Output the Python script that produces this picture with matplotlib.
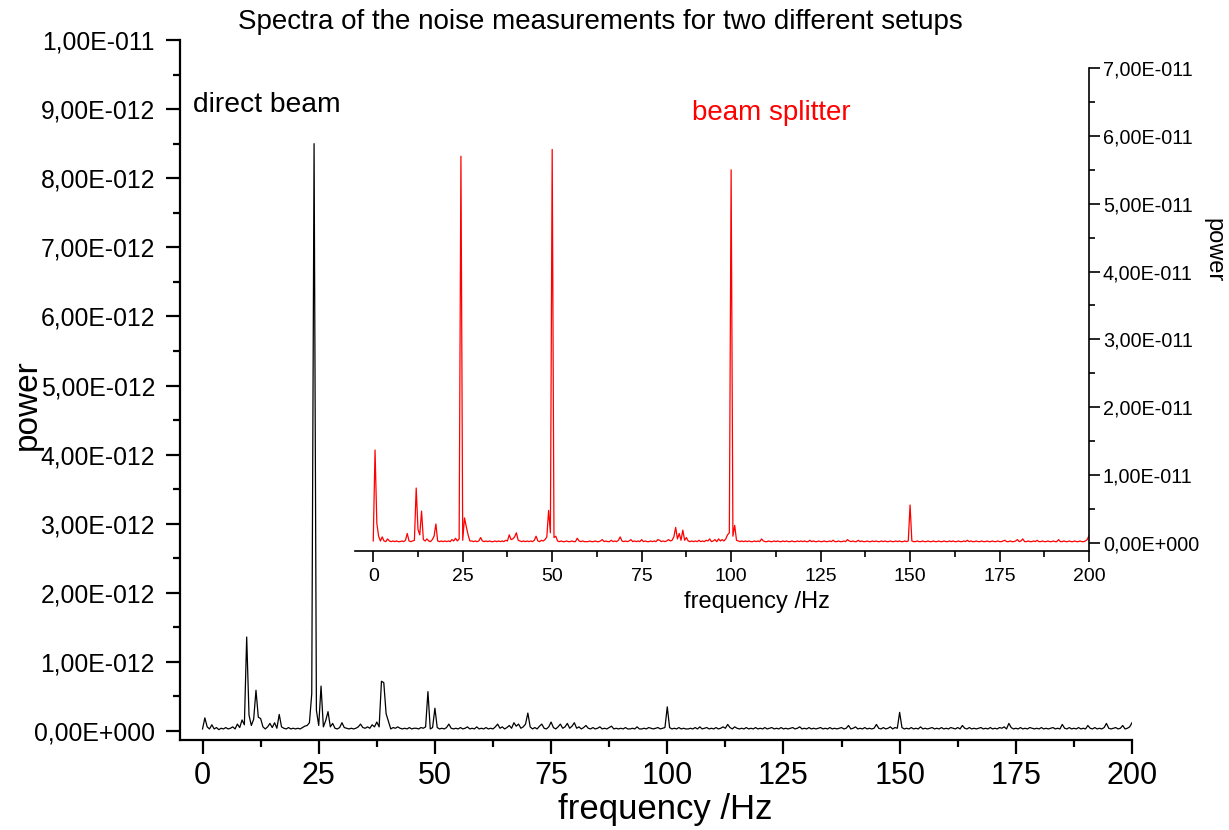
import numpy as np
import matplotlib.pyplot as plt

# ================= DATA =================
# frequency grid step 0.5 Hz, 0 .. 200 Hz
freq_step = 0.5

# direct beam, units of 1e-13 (one row = 10 Hz)
direct_beam = [
    0.3, 1.9, 0.6, 0.3, 0.9, 0.3, 0.5, 0.2, 0.4, 0.3, 0.5, 0.3, 0.4, 0.6, 0.3, 1.0, 0.5, 1.6, 0.9, 13.6,
    2.3, 0.8, 1.7, 5.9, 2.0, 1.8, 0.6, 0.3, 0.6, 1.1, 0.5, 1.2, 0.4, 2.4, 0.6, 0.4, 0.3, 0.5, 0.3, 0.4,
    0.3, 0.4, 0.3, 0.5, 0.7, 0.8, 1.2, 5.4, 85.0, 3.0, 0.8, 6.5, 0.6, 1.5, 2.8, 0.6, 1.1, 0.4, 0.3, 0.5,
    1.2, 0.5, 0.4, 0.3, 0.4, 0.3, 0.4, 0.6, 1.0, 0.5, 0.4, 0.6, 0.4, 0.9, 0.6, 1.3, 0.6, 7.2, 7.0, 2.5,
    1.4, 0.3, 0.5, 0.4, 0.6, 0.4, 0.3, 0.4, 0.3, 0.5, 0.3, 0.4, 0.4, 0.3, 0.5, 0.4, 0.6, 5.7, 0.3, 0.5,
    3.3, 0.5, 0.3, 0.4, 0.3, 0.5, 1.0, 0.4, 0.3, 0.4, 0.3, 0.5, 0.3, 0.4, 0.6, 0.3, 0.4, 0.3, 0.6, 0.3,
    0.4, 0.3, 0.5, 0.3, 0.4, 0.3, 0.6, 1.0, 0.4, 0.6, 0.3, 0.5, 0.8, 0.4, 1.2, 0.7, 1.0, 0.4, 0.6, 1.0,
    2.6, 0.6, 0.3, 0.5, 0.3, 0.7, 1.0, 0.4, 0.3, 0.6, 1.3, 0.5, 0.3, 0.6, 1.0, 0.4, 0.6, 1.1, 0.4, 0.7,
    1.2, 0.4, 0.6, 0.3, 0.5, 0.8, 0.4, 0.3, 0.5, 0.3, 0.4, 0.6, 0.3, 0.4, 0.3, 0.5, 0.7, 0.3, 0.4, 0.3,
    0.4, 0.3, 0.5, 0.3, 0.3, 0.4, 0.3, 0.6, 0.3, 0.3, 0.4, 0.3, 0.5, 0.4, 0.3, 0.4, 0.5, 0.3, 0.4, 0.5,
    3.5, 0.5, 0.3, 0.4, 0.3, 0.5, 0.3, 0.4, 0.3, 0.3, 0.4, 0.3, 0.5, 0.3, 0.6, 0.3, 0.4, 0.5, 0.3, 0.4,
    0.3, 0.5, 0.3, 0.4, 0.6, 0.4, 0.95, 0.5, 0.3, 0.6, 0.4, 0.3, 0.4, 0.3, 0.5, 0.3, 0.4, 0.3, 0.5, 0.3,
    0.4, 0.3, 0.5, 0.3, 0.4, 0.5, 0.3, 0.4, 0.3, 0.5, 0.3, 0.4, 0.3, 0.4, 0.5, 0.3, 0.4, 0.6, 0.3, 0.4,
    0.3, 0.5, 0.3, 0.4, 0.3, 0.4, 0.5, 0.3, 0.4, 0.3, 0.5, 0.3, 0.4, 0.3, 0.4, 0.5, 0.3, 0.4, 0.8, 0.3,
    0.4, 0.6, 0.3, 0.4, 0.3, 0.5, 0.3, 0.4, 0.3, 0.4, 0.95, 0.4, 0.3, 0.5, 0.3, 0.4, 0.6, 0.3, 0.5, 0.4,
    2.7, 0.5, 0.3, 0.4, 0.3, 0.5, 0.3, 0.4, 0.3, 0.6, 0.3, 0.4, 0.3, 0.4, 0.5, 0.3, 0.4, 0.3, 0.5, 0.3,
    0.4, 0.3, 0.5, 0.4, 0.3, 0.5, 0.3, 0.8, 0.4, 0.3, 0.5, 0.3, 0.4, 0.3, 0.4, 0.5, 0.3, 0.4, 0.3, 0.5,
    0.3, 0.4, 0.3, 0.5, 0.4, 0.6, 0.3, 1.1, 0.5, 0.3, 0.4, 0.3, 0.5, 0.3, 0.4, 0.3, 0.5, 0.4, 0.3, 0.4,
    0.3, 0.5, 0.3, 0.4, 0.3, 0.4, 0.5, 0.3, 0.4, 0.3, 0.95, 0.4, 0.3, 0.5, 0.3, 0.4, 0.3, 0.5, 0.3, 0.4,
    0.3, 0.8, 0.4, 0.3, 0.5, 0.3, 0.4, 0.3, 0.5, 1.1, 0.4, 0.3, 0.4, 0.5, 0.3, 0.4, 0.8, 0.3, 0.4, 0.6,
    1.2,
]

# beam splitter, units of 1e-12 (one row = 10 Hz)
beam_splitter = [
    0.3, 13.7, 2.9, 1.0, 0.3, 0.9, 0.3, 0.2, 0.6, 0.3, 0.2, 0.3, 0.2, 0.3, 0.2, 0.2, 0.3, 0.2, 0.4, 1.4,
    0.3, 0.2, 0.3, 0.4, 8.1, 2.0, 1.2, 4.7, 0.5, 0.3, 0.6, 0.3, 0.2, 0.5, 1.0, 2.8, 0.3, 0.2, 0.3, 0.2,
    0.3, 0.2, 0.3, 0.2, 0.5, 0.3, 0.7, 0.3, 0.6, 57.0, 0.4, 3.7, 2.4, 1.2, 0.3, 0.3, 0.2, 0.3, 0.2, 0.3,
    0.8, 0.3, 0.2, 0.3, 0.2, 0.3, 0.2, 0.2, 0.3, 0.2, 0.3, 0.2, 0.3, 0.2, 0.4, 0.3, 1.2, 0.5, 0.6, 0.9,
    1.5, 0.4, 0.3, 0.2, 0.3, 0.2, 0.3, 0.2, 0.3, 0.2, 0.4, 1.0, 0.3, 0.2, 0.4, 0.3, 0.5, 0.9, 4.8, 1.5,
    58.0, 0.8, 1.0, 0.3, 0.2, 0.3, 0.2, 0.2, 0.3, 0.2, 0.2, 0.3, 0.2, 0.2, 0.7, 0.3, 0.2, 0.3, 0.2, 0.2,
    0.2, 0.3, 0.2, 0.2, 0.3, 0.2, 0.2, 0.3, 0.5, 0.2, 0.3, 0.2, 0.2, 0.4, 0.2, 0.3, 0.2, 0.4, 0.9, 0.3,
    0.2, 0.3, 0.2, 0.3, 0.5, 0.2, 0.3, 0.2, 0.3, 0.2, 0.5, 0.2, 0.3, 0.2, 0.2, 0.3, 0.2, 0.3, 0.2, 0.5,
    0.4, 0.2, 0.3, 0.2, 0.3, 0.5, 0.3, 0.4, 0.9, 2.3, 0.6, 1.4, 0.4, 1.9, 0.4, 0.8, 0.3, 0.2, 0.3, 0.2,
    0.3, 0.2, 0.4, 0.2, 0.3, 0.2, 0.4, 0.3, 0.6, 0.2, 0.3, 0.5, 0.2, 0.6, 0.3, 0.5, 0.3, 0.6, 1.2, 1.5,
    55.0, 1.0, 2.6, 0.4, 0.3, 0.2, 0.3, 0.2, 0.3, 0.2, 0.3, 0.2, 0.2, 0.3, 0.2, 0.3, 0.2, 0.6, 0.3, 0.2,
    0.2, 0.3, 0.2, 0.2, 0.3, 0.2, 0.3, 0.2, 0.2, 0.3, 0.2, 0.3, 0.2, 0.2, 0.3, 0.2, 0.2, 0.3, 0.2, 0.3,
    0.2, 0.3, 0.2, 0.2, 0.4, 0.2, 0.3, 0.2, 0.2, 0.3, 0.2, 0.2, 0.3, 0.2, 0.2, 0.3, 0.2, 0.4, 0.2, 0.2,
    0.3, 0.2, 0.2, 0.3, 0.2, 0.5, 0.3, 0.2, 0.3, 0.2, 0.2, 0.4, 0.2, 0.3, 0.2, 0.2, 0.3, 0.2, 0.2, 0.3,
    0.2, 0.3, 0.2, 0.2, 0.3, 0.2, 0.3, 0.2, 0.2, 0.3, 0.2, 0.2, 0.3, 0.2, 0.3, 0.2, 0.2, 0.3, 0.2, 0.3,
    5.6, 0.3, 0.2, 0.2, 0.3, 0.2, 0.2, 0.3, 0.2, 0.2, 0.3, 0.2, 0.2, 0.3, 0.2, 0.2, 0.3, 0.2, 0.2, 0.3,
    0.2, 0.2, 0.3, 0.2, 0.3, 0.2, 0.2, 0.3, 0.2, 0.2, 0.3, 0.2, 0.4, 0.2, 0.3, 0.2, 0.2, 0.3, 0.2, 0.2,
    0.3, 0.2, 0.2, 0.3, 0.2, 0.2, 0.3, 0.2, 0.2, 0.3, 0.2, 0.2, 0.3, 0.4, 0.2, 0.2, 0.3, 0.2, 0.2, 0.3,
    0.5, 0.2, 0.3, 0.6, 0.2, 0.2, 0.3, 0.2, 0.2, 0.3, 0.2, 0.4, 0.2, 0.2, 0.3, 0.2, 0.2, 0.3, 0.2, 0.2,
    0.3, 0.2, 0.2, 0.5, 0.2, 0.2, 0.3, 0.2, 0.2, 0.3, 0.2, 0.2, 0.3, 0.2, 0.2, 0.3, 0.2, 0.2, 0.3, 0.5,
    1.1,
]

x_ticks = [0, 25, 50, 75, 100, 125, 150, 175, 200]
x_minor = [12.5, 37.5, 62.5, 87.5, 112.5, 137.5, 162.5, 187.5]
main_y_ticks = [i * 1e-12 for i in range(11)]
main_y_minor = [(i + 0.5) * 1e-12 for i in range(10)]
ins_y_ticks = [i * 1e-11 for i in range(8)]
ins_y_minor = [(i + 0.5) * 1e-11 for i in range(7)]

freq = np.arange(len(direct_beam)) * freq_step
p_direct = np.array(direct_beam) * 1e-13
p_split = np.array(beam_splitter) * 1e-12


def origin_fmt(v):
    # Origin style: 1,00E-011
    if abs(v) < 1e-20:
        return "0,00E+000"
    e = int(np.floor(np.log10(abs(v)) + 1e-9))
    m = v / 10.0 ** e
    return f"{m:.2f}".replace(".", ",") + f"E{e:+04d}"


plt.rcParams['font.family'] = ['Liberation Sans', 'DejaVu Sans']

W, H = 1229, 830
fig = plt.figure(figsize=(W / 100, H / 100), dpi=100)

# ================= MAIN AXES =================
ax = fig.add_axes([180 / W, (H - 740) / H, (1132 - 180) / W, (740 - 40) / H])
ax.plot(freq, p_direct, color='black', lw=0.9)
ax.set_xlim(-4.85, 200)
ax.set_ylim(-1.3e-13, 1e-11)
for s in ['top', 'right']:
    ax.spines[s].set_visible(False)
for s in ['left', 'bottom']:
    ax.spines[s].set_linewidth(1.6)
ax.set_xticks(x_ticks)
ax.set_xticks(x_minor, minor=True)
ax.set_yticks(main_y_ticks, [origin_fmt(v) for v in main_y_ticks])
ax.set_yticks(main_y_minor, minor=True)
ax.tick_params(which='major', direction='out', length=10, width=1.6)
ax.tick_params(which='minor', direction='out', length=5, width=1.6)
ax.tick_params(axis='y', which='major', labelsize=17.8, pad=8)
ax.tick_params(axis='x', which='major', labelsize=22, pad=5)

# ================= INSET =================
ins = fig.add_axes([355 / W, (H - 551) / H, (1089 - 355) / W, (551 - 68) / H])
ins.patch.set_alpha(0)
ins.plot(freq, p_split, color='red', lw=0.9)
ins.set_xlim(-5.1, 200)
ins.set_ylim(-1.18e-12, 7e-11)
for s in ['top', 'left']:
    ins.spines[s].set_visible(False)
for s in ['right', 'bottom']:
    ins.spines[s].set_linewidth(1.2)
ins.yaxis.tick_right()
ins.set_xticks(x_ticks)
ins.set_xticks(x_minor, minor=True)
ins.set_yticks(ins_y_ticks, [origin_fmt(v) for v in ins_y_ticks])
ins.set_yticks(ins_y_minor, minor=True)
ins.tick_params(which='major', direction='out', length=8, width=1.2)
ins.tick_params(which='minor', direction='out', length=4, width=1.2)
ins.tick_params(axis='y', which='major', labelsize=14.2, pad=2)
ins.tick_params(axis='x', which='major', labelsize=14, pad=4)

# ================= TEXT =================
fig.text(600 / W, 1 - 22 / H, "Spectra of the noise measurements for two different setups",
         ha='center', va='center', fontsize=20)
fig.text(193 / W, 1 - 105 / H, "direct beam", ha='left', va='center', fontsize=20.3)
fig.text(692 / W, 1 - 113 / H, "beam splitter", ha='left', va='center', fontsize=20, color='red')
fig.text(27 / W, 1 - 405 / H, "power", ha='center', va='center', rotation=90, fontsize=24)
fig.text(665 / W, 1 - 809 / H, "frequency /Hz", ha='center', va='center', fontsize=25)
fig.text(757 / W, 1 - 602 / H, "frequency /Hz", ha='center', va='center', fontsize=17)
fig.text(1213 / W, 1 - 250 / H, "power", ha='center', va='center', rotation=270, fontsize=17)

fig.savefig("out.png", dpi=100)
